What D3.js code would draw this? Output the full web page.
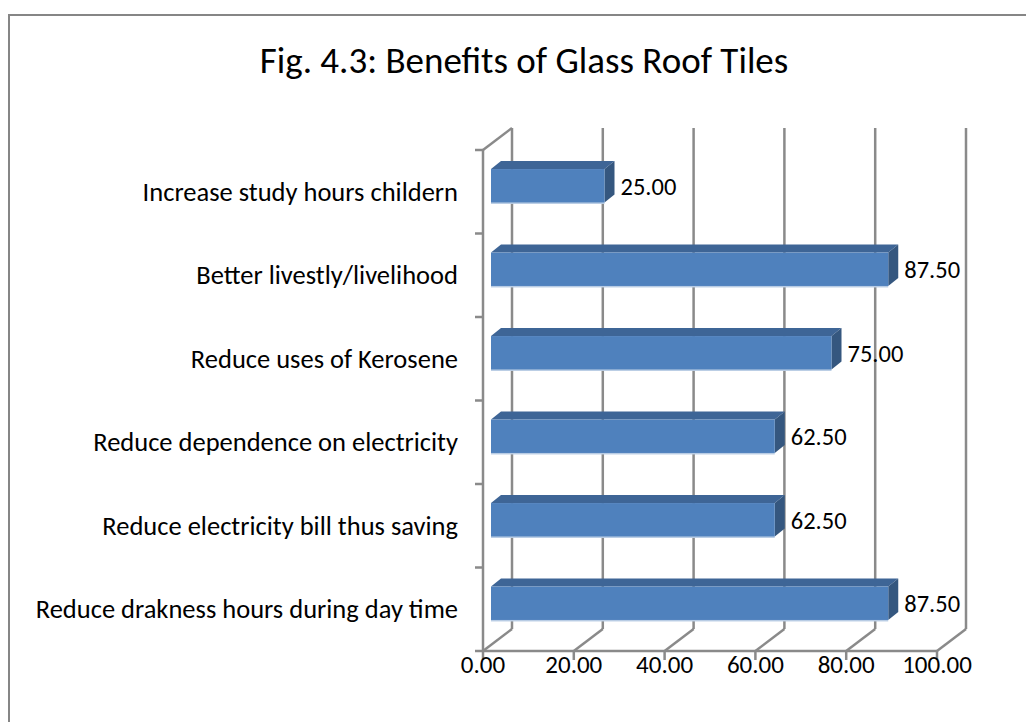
<!DOCTYPE html>
<html>
<head>
<meta charset="utf-8">
<script src="https://cdn.jsdelivr.net/npm/d3@7"></script>
<style>
    body { margin: 0; background: #fff; }
    text { font-family: Carlito, Lato, "Liberation Sans", sans-serif; fill: #000; }
</style>
</head>
<body>
<div id="chart"></div>
<script>
// data, top to bottom
const categories = [
    "Increase study hours childern",
    "Better livestly/livelihood",
    "Reduce uses of Kerosene",
    "Reduce dependence on electricity",
    "Reduce electricity bill thus saving",
    "Reduce drakness hours during day time"
];
const values = [25.00, 87.50, 75.00, 62.50, 62.50, 87.50];
const xTicks = [0, 20, 40, 60, 80, 100];
const title = "Fig. 4.3: Benefits of Glass Roof Tiles";

const W = 1026, H = 722;
const gridColor = "#8a8a8a";

// 3d offsets (front plane -> back wall)
const DX = 29, DY = -22;
// bar front plane offset and bar depth
const bOff = {dx: 8, dy: -6};
const bDep = {dx: 10, dy: -8};

const svg = d3.select("#chart")
    .append("svg")
    .attr("width", W)
    .attr("height", H);

// outer frame
svg.append("rect")
    .attr("x", 9).attr("y", 15)
    .attr("width", W + 20).attr("height", H + 20)
    .attr("fill", "none")
    .attr("stroke", "#868686")
    .attr("stroke-width", 2);

svg.append("text")
    .attr("x", 524).attr("y", 60)
    .attr("text-anchor", "middle")
    .attr("dominant-baseline", "central")
    .style("font-size", "37px")
    .text(title);

const x = d3.scaleLinear()
    .domain([0, 100])
    .range([483, 937]);

const y = d3.scaleBand()
    .domain(categories)
    .range([150, 651])
    .padding(0);

const yTop = y.range()[0], yBot = y.range()[1];
const g = svg.append("g");

// back wall gridlines
g.selectAll(".grid")
    .data(xTicks)
    .enter()
    .append("line")
    .attr("x1", d => x(d) + DX).attr("x2", d => x(d) + DX)
    .attr("y1", yTop + DY).attr("y2", yBot + DY)
    .attr("stroke", gridColor).attr("stroke-width", 2.5);

// floor lines
g.selectAll(".floor")
    .data(xTicks)
    .enter()
    .append("line")
    .attr("x1", d => x(d)).attr("x2", d => x(d) + DX)
    .attr("y1", yBot).attr("y2", yBot + DY)
    .attr("stroke", gridColor).attr("stroke-width", 2.5);

// front floor edge + ticks
g.append("line")
    .attr("x1", x(0) - 8).attr("x2", x(100))
    .attr("y1", yBot).attr("y2", yBot)
    .attr("stroke", gridColor).attr("stroke-width", 2.5);
g.selectAll(".xtick")
    .data(xTicks)
    .enter()
    .append("line")
    .attr("x1", d => x(d)).attr("x2", d => x(d))
    .attr("y1", yBot).attr("y2", yBot + 9)
    .attr("stroke", gridColor).attr("stroke-width", 2.5);

// side wall
g.append("line")
    .attr("x1", x(0)).attr("x2", x(0))
    .attr("y1", yTop).attr("y2", yBot)
    .attr("stroke", gridColor).attr("stroke-width", 2.5);
g.append("line")
    .attr("x1", x(0)).attr("x2", x(0) + DX)
    .attr("y1", yTop).attr("y2", yTop + DY)
    .attr("stroke", gridColor).attr("stroke-width", 2.5);
g.selectAll(".ytick")
    .data(categories)
    .enter()
    .append("line")
    .attr("x1", x(0) - 8).attr("x2", x(0))
    .attr("y1", d => y(d)).attr("y2", d => y(d))
    .attr("stroke", gridColor).attr("stroke-width", 2.5);

// bars
const barH = y.bandwidth() * 0.4;
const data = categories.map((c, i) => ({cat: c, value: values[i]}));

const bars = g.selectAll(".bar")
    .data(data)
    .enter()
    .append("g")
    .attr("class", "bar");

const bx0 = x(0) + bOff.dx;
const bTop = d => y(d.cat) + y.bandwidth() / 2 + bOff.dy - barH / 2;
const bx1 = d => x(d.value) + bOff.dx;

// top face
bars.append("path")
    .attr("d", d => {
        const t = bTop(d);
        return `M${bx0},${t} L${bx0 + bDep.dx},${t + bDep.dy} L${bx1(d) + bDep.dx},${t + bDep.dy} L${bx1(d)},${t} Z`;
    })
    .attr("fill", "#3e6596");
// side face
bars.append("path")
    .attr("d", d => {
        const t = bTop(d), r = bx1(d);
        return `M${r},${t} L${r + bDep.dx},${t + bDep.dy} L${r + bDep.dx},${t + barH + bDep.dy} L${r},${t + barH} Z`;
    })
    .attr("fill", "#35577f");
// light bottom edge
bars.append("rect")
    .attr("x", bx0)
    .attr("y", d => bTop(d) + barH - 1)
    .attr("width", d => bx1(d) - bx0)
    .attr("height", 2.5)
    .attr("fill", "#b8cce4");
// front face
bars.append("rect")
    .attr("x", bx0)
    .attr("y", d => bTop(d))
    .attr("width", d => bx1(d) - bx0)
    .attr("height", barH)
    .attr("fill", "#4f81bd");

// value labels
bars.append("text")
    .attr("x", d => bx1(d) + 16)
    .attr("y", d => bTop(d) + barH / 2 + 1)
    .attr("dominant-baseline", "central")
    .style("font-size", "24.5px")
    .text(d => d.value.toFixed(2));

// category labels
svg.selectAll(".clabel")
    .data(categories)
    .enter()
    .append("text")
    .attr("x", 458)
    .attr("y", d => y(d) + y.bandwidth() / 2)
    .attr("text-anchor", "end")
    .attr("dominant-baseline", "central")
    .style("font-size", "26.5px")
    .text(d => d);

// x tick labels
svg.selectAll(".xlabel")
    .data(xTicks)
    .enter()
    .append("text")
    .attr("x", d => x(d))
    .attr("y", 664)
    .attr("text-anchor", "middle")
    .attr("dominant-baseline", "central")
    .style("font-size", "25px")
    .text(d => d.toFixed(2));
</script>
</body>
</html>
